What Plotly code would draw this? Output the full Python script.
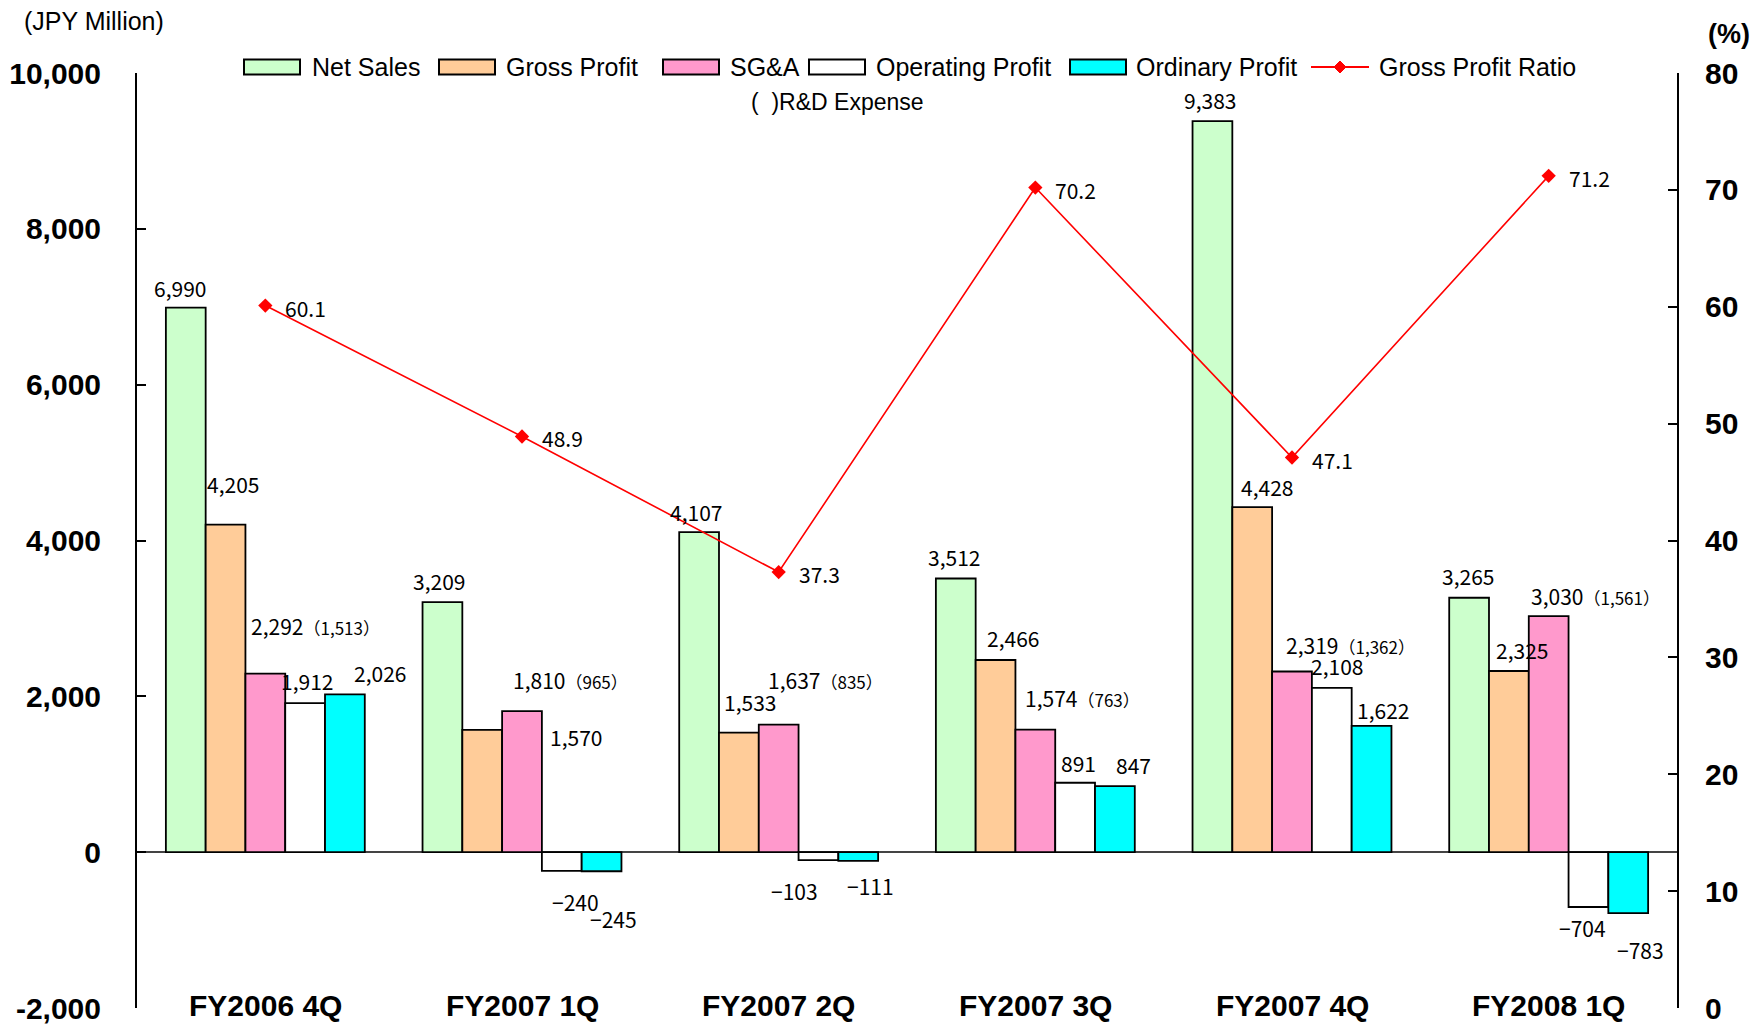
import plotly.graph_objects as go

categories = ["FY2006 4Q", "FY2007 1Q", "FY2007 2Q", "FY2007 3Q", "FY2007 4Q", "FY2008 1Q"]
net_sales = [6990, 3209, 4107, 3512, 9383, 3265]
gross_profit = [4205, 1570, 1533, 2466, 4428, 2325]
sga = [2292, 1810, 1637, 1574, 2319, 3030]
rd_expense = [1513, 965, 835, 763, 1362, 1561]
operating_profit = [1912, -240, -103, 891, 2108, -704]
ordinary_profit = [2026, -245, -111, 847, 1622, -783]
gross_profit_ratio = [60.1, 48.9, 37.3, 70.2, 47.1, 71.2]

left_ticks = [-2000, 0, 2000, 4000, 6000, 8000, 10000]
left_ticktext = ["-2,000", "0", "2,000", "4,000", "6,000", "8,000", "10,000"]
right_ticks = [0, 10, 20, 30, 40, 50, 60, 70, 80]

series = [
    ("Net Sales", net_sales, "#CCFFCC"),
    ("Gross Profit", gross_profit, "#FFCC99"),
    ("SG&A", sga, "#FF99CC"),
    ("Operating Profit", operating_profit, "#FFFFFF"),
    ("Ordinary Profit", ordinary_profit, "#00FFFF"),
]
line_name = "Gross Profit Ratio"
line_color = "#FF0000"

# label offsets (pixels) per series per category: (dx from bar centre, dy from bar end)
label_offsets = [
    [(-6, 20), (-3, 21), (-3, 20), (-2, 22), (-2, 21), (-1, 22)],
    [(7, 41), (94, -7), (11, 31), (17, 22), (15, 20), (13, 21)],
    [(-16, 48), (-11, 31), (-13, 45), (-12, 32), (-8, 26), (-20, 20)],
    [(2, 22), (14, -31), (-24, -31), (3, 20), (5, 22), (-6, -21)],
    [(35, 21), (12, -48), (12, -25), (19, 21), (11, 16), (12, -37)],
]

# custom legend layout (pixel positions): symbol left, symbol right, text left
legend_px = [(244, 300, 310), (439, 495, 504), (663, 719, 728),
             (809, 865, 874), (1070, 1126, 1134), (1311, 1369, 1377)]
legend_y_px = 67

W, H = 1757, 1024
ML, MR, MT, MB = 137, 80, 73, 16
plot_w = W - ML - MR
plot_h = H - MT - MB
cat_w = plot_w / len(categories)
bargap = 0.225
bar_w = cat_w * (1 - bargap) / 5


def px_x(px):
    return (px - ML) / plot_w


def px_y(py):
    return 1 - (py - MT) / plot_h


fig = go.Figure()
for name, vals, color in series:
    fig.add_trace(go.Bar(
        x=categories, y=vals, name=name,
        marker=dict(color=color, line=dict(color="black", width=1.8)),
        yaxis="y", showlegend=False,
    ))

fig.add_trace(go.Scatter(
    x=categories, y=gross_profit_ratio, name=line_name,
    mode="lines+markers", yaxis="y2", showlegend=False,
    line=dict(color=line_color, width=1.6),
    marker=dict(symbol="diamond", size=11, color=line_color),
))

label_font = dict(family="Noto Sans CJK JP, Liberation Sans, Arial", size=21, color="black")
small_font_size = 17
sans = "Liberation Sans, Arial"

annotations = []
for si, (name, vals, color) in enumerate(series):
    for ci, cat in enumerate(categories):
        v = vals[ci]
        dx, dy = label_offsets[si][ci]
        base_shift = (si - 2) * bar_w
        if si == 2:
            text = f"{v:,}<span style='font-size:{small_font_size}px'>（{rd_expense[ci]:,}）</span>"
            annotations.append(dict(x=cat, y=v, xref="x", yref="y", text=text,
                                    showarrow=False, xanchor="left", yanchor="middle",
                                    xshift=base_shift + dx, yshift=dy, font=label_font))
        else:
            text = f"{v:,}".replace("-", "−")
            annotations.append(dict(x=cat, y=v, xref="x", yref="y", text=text,
                                    showarrow=False, xanchor="center", yanchor="middle",
                                    xshift=base_shift + dx, yshift=dy, font=label_font))

for ci, cat in enumerate(categories):
    annotations.append(dict(x=cat, y=gross_profit_ratio[ci], xref="x", yref="y2",
                            text=f"{gross_profit_ratio[ci]:.1f}", showarrow=False,
                            xanchor="left", yanchor="middle", xshift=18, yshift=-2,
                            font=label_font))

# category labels at the bottom of the plot
for cat in categories:
    annotations.append(dict(x=cat, y=-2000, xref="x", yref="y", text=f"<b>{cat}</b>",
                            showarrow=False, xanchor="center", yanchor="middle", yshift=3,
                            font=dict(family=sans, size=30, color="black")))

annotations += [
    dict(x=px_x(94), y=px_y(21), xref="paper", yref="paper", text="(JPY Million)",
         showarrow=False, xanchor="center", yanchor="middle",
         font=dict(family=sans, size=25, color="black")),
    dict(x=px_x(1729), y=px_y(34), xref="paper", yref="paper", text="<b>(%)</b>",
         showarrow=False, xanchor="center", yanchor="middle",
         font=dict(family=sans, size=27, color="black")),
    dict(x=px_x(837), y=px_y(102), xref="paper", yref="paper", text="(  )R&D Expense",
         showarrow=False, xanchor="center", yanchor="middle",
         font=dict(family=sans, size=23, color="black")),
]

# custom legend
shapes = []
legend_names = [s[0] for s in series] + [line_name]
legend_colors = [s[2] for s in series]
for i, name in enumerate(legend_names):
    x0, x1, tx = legend_px[i]
    if i < len(series):
        shapes.append(dict(type="rect", xref="paper", yref="paper",
                           x0=px_x(x0), x1=px_x(x1),
                           y0=px_y(legend_y_px + 7.5), y1=px_y(legend_y_px - 7.5),
                           fillcolor=legend_colors[i], line=dict(color="black", width=2)))
    else:
        shapes.append(dict(type="line", xref="paper", yref="paper",
                           x0=px_x(x0), x1=px_x(x1), y0=px_y(legend_y_px), y1=px_y(legend_y_px),
                           line=dict(color=line_color, width=2)))
        cx = (x0 + x1) / 2
        d = 6
        path = (f"M {px_x(cx - d)} {px_y(legend_y_px)} L {px_x(cx)} {px_y(legend_y_px - d)} "
                f"L {px_x(cx + d)} {px_y(legend_y_px)} L {px_x(cx)} {px_y(legend_y_px + d)} Z")
        shapes.append(dict(type="path", xref="paper", yref="paper", path=path,
                           fillcolor=line_color, line=dict(color=line_color, width=1)))
    annotations.append(dict(x=px_x(tx), y=px_y(legend_y_px), xref="paper", yref="paper",
                            text=name, showarrow=False, xanchor="left", yanchor="middle",
                            font=dict(family=sans, size=25, color="black")))

fig.update_layout(
    width=W, height=H,
    margin=dict(l=ML, r=MR, t=MT, b=MB, autoexpand=False),
    paper_bgcolor="white", plot_bgcolor="white",
    barmode="group", bargap=bargap, bargroupgap=0,
    font=dict(family=sans, color="black"),
    xaxis=dict(showticklabels=False, showline=False, showgrid=False, zeroline=False,
               ticks="", automargin=False),
    yaxis=dict(range=[-2000, 10000], tickvals=left_ticks, ticktext=left_ticktext,
               showgrid=False, showline=True, linecolor="black", linewidth=2,
               ticks="inside", ticklen=9, tickwidth=2, tickcolor="black",
               zeroline=True, zerolinecolor="#444444", zerolinewidth=1.5,
               tickfont=dict(family=sans, size=30, color="black", weight="bold"),
               ticklabelstandoff=28, automargin=False, ticklabeloverflow="allow"),
    yaxis2=dict(range=[0, 80], tickvals=right_ticks, overlaying="y", side="right",
                showgrid=False, showline=True, linecolor="black", linewidth=2,
                ticks="inside", ticklen=9, tickwidth=2, tickcolor="black",
                zeroline=False,
                tickfont=dict(family=sans, size=30, color="black", weight="bold"),
                ticklabelstandoff=20, automargin=False, ticklabeloverflow="allow"),
    annotations=annotations,
    shapes=shapes,
    showlegend=False,
)

fig.write_html("out.html", config={"displayModeBar": False},
               post_script="document.body.style.margin='0';document.body.style.overflow='hidden';")
